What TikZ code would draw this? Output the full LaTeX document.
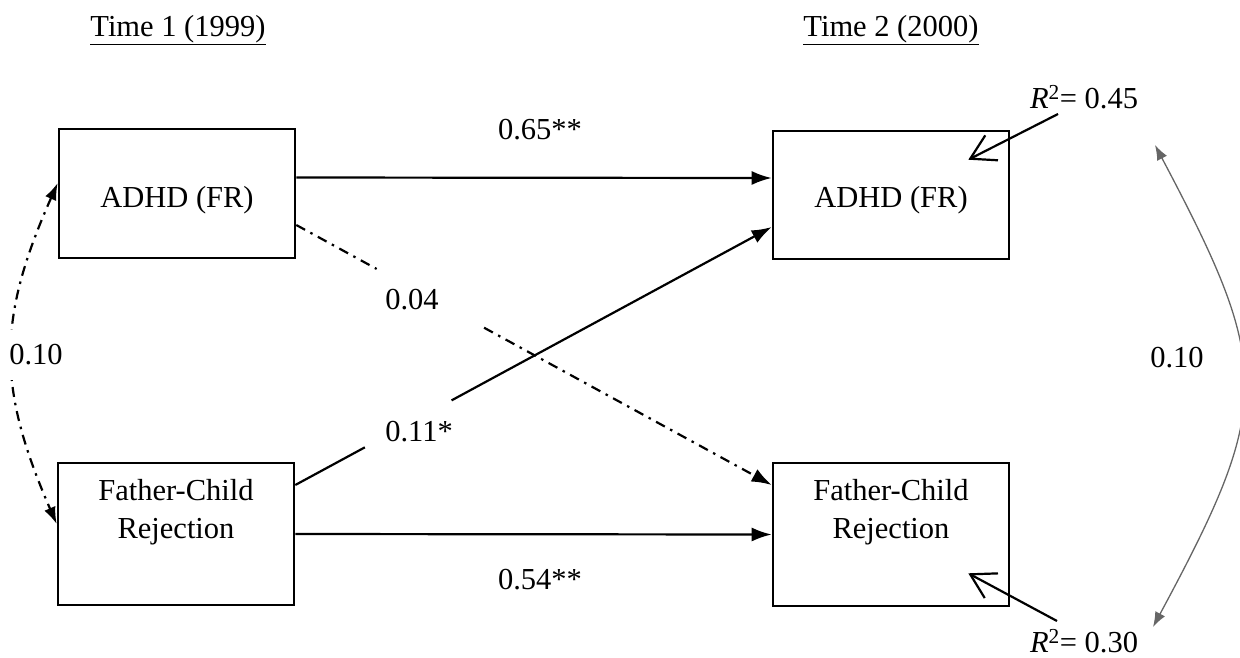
\documentclass[tikz,border=0pt]{standalone}
\usepackage{fontspec}
\setmainfont{Liberation Serif}
\usetikzlibrary{arrows.meta,calc}
\begin{document}
\begin{tikzpicture}[x=1pt,y=-1pt,
  box/.style={draw,line width=2.6pt,minimum width=236pt,inner sep=0pt},
  txt/.style={font=\fontsize{30.5}{38.5}\selectfont,align=center,inner sep=0pt},
  effect/.style={line width=2.2pt,-{Latex[length=20pt,width=14pt]}},
  dashdot/.style={dash pattern=on 10pt off 6pt on 2.5pt off 6pt},
  cov/.style={line width=2.2pt,dashdot,{Latex[length=17pt,width=12pt]}-{Latex[length=17pt,width=12pt]}},
  graycov/.style={line width=1.3pt,draw=black!60,{Latex[length=15pt,width=11pt,fill=black!60]}-{Latex[length=15pt,width=11pt,fill=black!60]}},
  resid/.style={line width=2.2pt,-{Straight Barb[length=24pt,width=28pt,line width=2.2pt]}},
  lbl/.style={txt,fill=white}]
\useasboundingbox (0,0) rectangle (1240,657);

% titles
\node[txt,anchor=base] (t1) at (178,36) {\underline{Time 1 (1999)}};
\node[txt,anchor=base] (t2) at (891,36) {\underline{Time 2 (2000)}};

% boxes
\node[box,minimum height=129pt] (A1) at (177,193.5) {};
\node[box,minimum height=128pt] (A2) at (891,195) {};
\node[box,minimum height=142pt] (F1) at (176,534) {};
\node[box,minimum height=143pt] (F2) at (891,534.5) {};
\node[txt,anchor=base] (A1t) at (177,207) {ADHD (FR)};
\node[txt,anchor=base] (A2t) at (891,207) {ADHD (FR)};
\node[txt,anchor=base] (F1t) at (176,538.5) {Father-Child\\Rejection};
\node[txt,anchor=base] (F2t) at (891,538.5) {Father-Child\\Rejection};

% stability paths
\draw[effect] ($(A1.east)+(0,-16)$) -- ($(A2.west)+(0,-17)$);
\draw[effect] (F1.east) -- (F2.west);
\node[txt] (l65) at (540,130) {0.65**};
\node[txt] (l54) at (540,580) {0.54**};

% cross-lagged paths
\coordinate (a1s) at ($(A1.east)+(0,31.5)$);
\coordinate (f2e) at ($(F2.west)+(0,-49.5)$);
\draw[effect,dashdot] (a1s) -- ($(a1s)!0.169!(f2e)$) ($(a1s)!0.395!(f2e)$) -- (f2e);
\node[txt] (l04) at (412,300) {0.04};

\coordinate (f1s) at ($(F1.east)+(0,-49)$);
\coordinate (a2e) at ($(A2.west)+(0,32)$);
\draw[effect] (f1s) -- ($(f1s)!0.146!(a2e)$) ($(f1s)!0.328!(a2e)$) -- (a2e);
\node[txt] (l11) at (419,432) {0.11*};

% covariance time 1
\draw[cov] ($(A1.west)+(0,-10.5)$) .. controls (-3,320) and (-3,387) .. ($(F1.west)+(0,-10)$);
\node[lbl,minimum height=50pt] (c1) at (36,355) {0.10};

% covariance time 2 (residuals)
\coordinate (g1) at (1155,145);
\coordinate (g2) at (1153,627);
\draw[graycov] (g1) .. controls (1273,368) and (1273,404) .. (g2);
\node[txt] (c2) at (1177,358) {0.10};

% R squared
\node[txt] (r1) at (1084,97) {\textit{R}\textsuperscript{2}= 0.45};
\node[txt] (r2) at (1084,641) {\textit{R}\textsuperscript{2}= 0.30};
\coordinate (r1e) at ($(A2.north east)+(-42,30)$);
\coordinate (r2e) at ($(F2.south east)+(-42,-34)$);
\draw[resid] ($(r1.south)+(-26,5)$) -- (r1e);
\draw[resid] ($(r2.north)+(-27,-8)$) -- (r2e);
\end{tikzpicture}
\end{document}
